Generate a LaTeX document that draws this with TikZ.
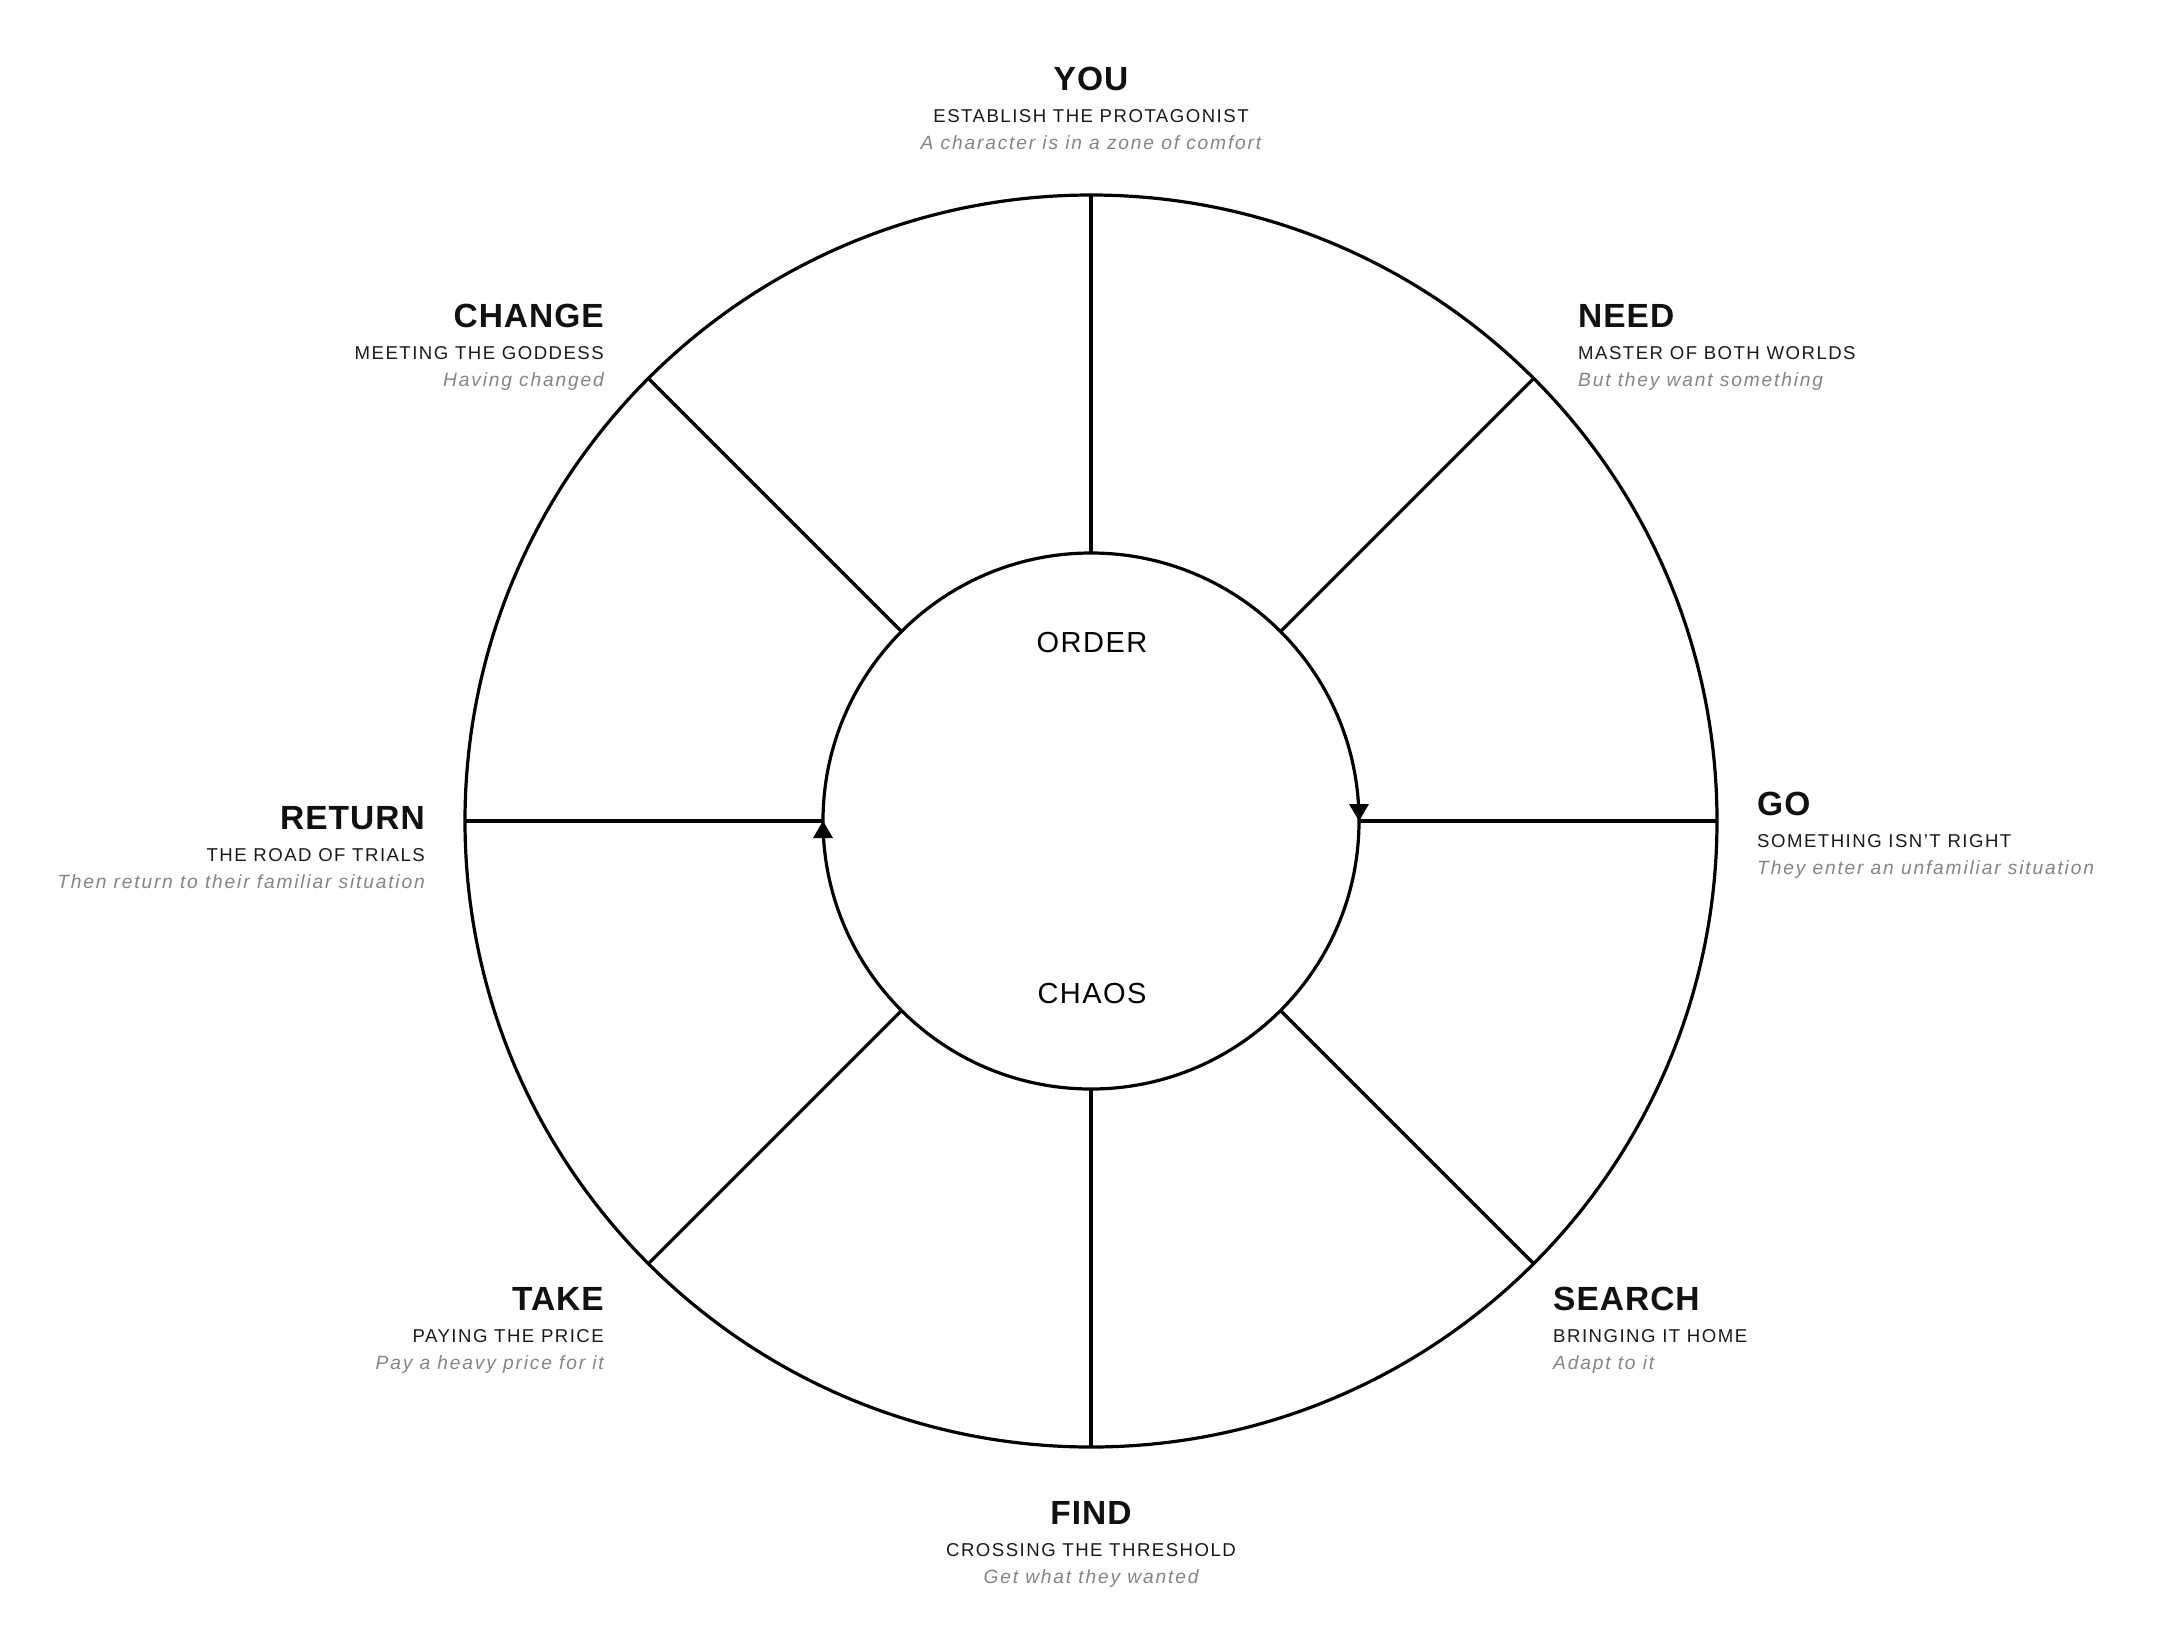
\documentclass[tikz,border=0pt]{standalone}
\usepackage{fontspec}
\usetikzlibrary{calc}
\setmainfont{Liberation Sans}
\newfontfamily\ttlfont{Liberation Sans}[LetterSpace=3]
\newfontfamily\subfont{Liberation Sans}[LetterSpace=8]
\newfontfamily\cmtfont{Liberation Sans}[LetterSpace=9.5]
\newfontfamily\midfont{Liberation Sans}[LetterSpace=5]
\definecolor{ttlc}{HTML}{111111}
\definecolor{subc}{HTML}{1A1A1A}
\definecolor{cmtc}{HTML}{858585}
\begin{document}
\begin{tikzpicture}[x=1pt,y=-1pt,
  ttl/.style={inner sep=0pt,text=ttlc,font=\ttlfont\bfseries\fontsize{33.5}{40}\selectfont},
  sub/.style={inner sep=0pt,text=subc,font=\subfont\fontsize{18.6}{22}\selectfont},
  cmt/.style={inner sep=0pt,text=cmtc,font=\cmtfont\itshape\fontsize{19.2}{22}\selectfont},
  mid/.style={inner sep=0pt,text=black,font=\midfont\fontsize{29}{34}\selectfont},
  ring/.style={line width=3.2pt,black},
  spoke/.style={line width=3.2pt,black}]
\useasboundingbox[fill=white] (0,0) rectangle (2158,1642);
\coordinate (c) at (1091,821);
% circles
\draw[ring] (c) circle[radius=626pt];
\draw[ring] (c) circle[radius=268pt];
% spokes
\foreach \a in {0,45,...,315}{
  \coordinate (in\a) at ($(c)+(\a:268)$);
  \coordinate (out\a) at ($(c)+(\a:626)$);
  \draw[spoke] (in\a) -- (out\a);
}
% arrowheads on inner circle
\fill (in0) -- ++(-10,-17) -- ++(20,0) -- cycle;
\fill (in180) -- ++(-10,17) -- ++(20,0) -- cycle;
% center labels
\node[mid,anchor=base] (order) at (1092,652) {ORDER};
\node[mid,anchor=base] (chaos) at (1092,1003) {CHAOS};
% YOU
\node[ttl,anchor=base] (you-t) at (1091,90) {YOU};
\node[sub,anchor=base] (you-s) at (1091,122) {ESTABLISH THE PROTAGONIST};
\node[cmt,anchor=base] (you-c) at (1091,149) {A character is in a zone of comfort};
% CHANGE
\node[ttl,anchor=base east] (change-t) at (604,327) {CHANGE};
\node[sub,anchor=base east] (change-s) at (604,359) {MEETING THE GODDESS};
\node[cmt,anchor=base east] (change-c) at (604,386) {Having changed};
% NEED
\node[ttl,anchor=base west] (need-t) at (1578,327) {NEED};
\node[sub,anchor=base west] (need-s) at (1578,359) {MASTER OF BOTH WORLDS};
\node[cmt,anchor=base west] (need-c) at (1578,386) {But they want something};
% RETURN
\node[ttl,anchor=base east] (return-t) at (425,829) {RETURN};
\node[sub,anchor=base east] (return-s) at (425,861) {THE ROAD OF TRIALS};
\node[cmt,anchor=base east] (return-c) at (425,888) {Then return to their familiar situation};
% GO
\node[ttl,anchor=base west] (go-t) at (1757,815) {GO};
\node[sub,anchor=base west] (go-s) at (1757,847) {SOMETHING ISN’T RIGHT};
\node[cmt,anchor=base west] (go-c) at (1757,874) {They enter an unfamiliar situation};
% TAKE
\node[ttl,anchor=base east] (take-t) at (604,1310) {TAKE};
\node[sub,anchor=base east] (take-s) at (604,1342) {PAYING THE PRICE};
\node[cmt,anchor=base east] (take-c) at (604,1369) {Pay a heavy price for it};
% SEARCH
\node[ttl,anchor=base west] (search-t) at (1553,1310) {SEARCH};
\node[sub,anchor=base west] (search-s) at (1553,1342) {BRINGING IT HOME};
\node[cmt,anchor=base west] (search-c) at (1553,1369) {Adapt to it};
% FIND
\node[ttl,anchor=base] (find-t) at (1091,1524) {FIND};
\node[sub,anchor=base] (find-s) at (1091,1556) {CROSSING THE THRESHOLD};
\node[cmt,anchor=base] (find-c) at (1091,1583) {Get what they wanted};
\end{tikzpicture}
\end{document}
